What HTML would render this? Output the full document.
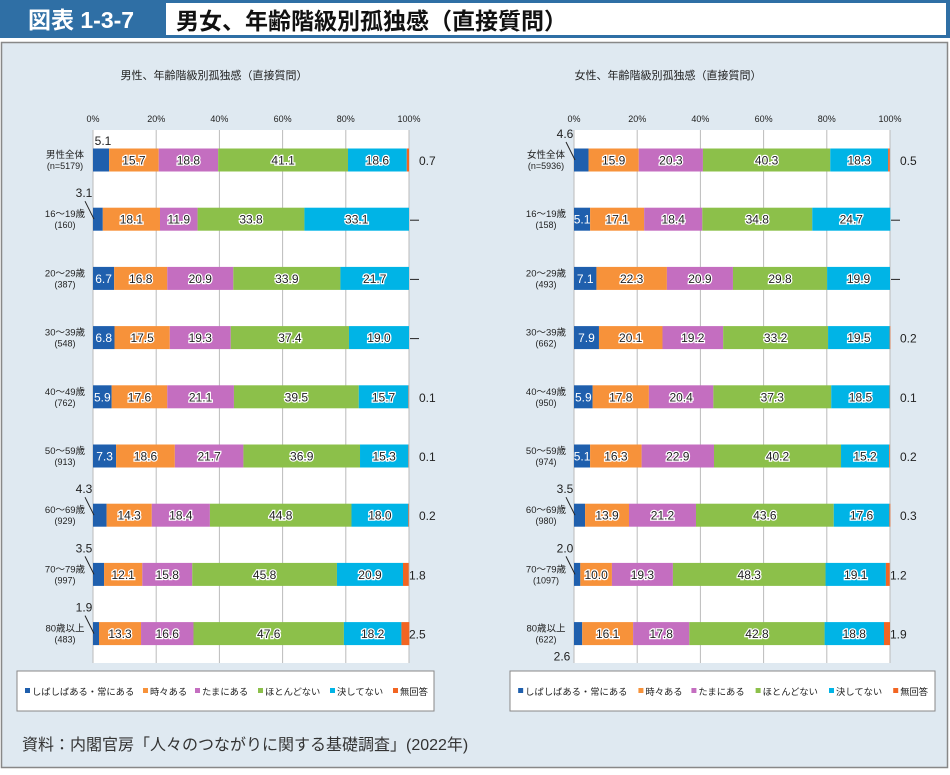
<!DOCTYPE html>
<html><head><meta charset="utf-8"><style>
body{margin:0;width:950px;height:770px;background:#fff;font-family:"Liberation Sans","Noto Sans CJK JP",sans-serif;overflow:hidden}
</style></head><body>
<svg id="s" width="950" height="770" xmlns="http://www.w3.org/2000/svg" font-family="Liberation Sans, Noto Sans CJK JP, sans-serif">
<rect x="0" y="0" width="950" height="38" fill="#2f6fa5"/>
<rect x="166" y="3" width="780" height="32" fill="#fff"/>
<text x="28" y="28" font-size="23" font-weight="bold" fill="#fff">図表 1-3-7</text>
<text x="176" y="29" font-size="23" font-weight="bold" fill="#111">男女、年齢階級別孤独感（直接質問）</text>
<rect x="1.5" y="42.5" width="946" height="725" fill="#dfe9f1" stroke="#888" stroke-width="1.5"/>
<text x="22" y="750" font-size="16" fill="#333">資料：内閣官房「人々のつながりに関する基礎調査」(2022年)</text>
<g id="g"></g>
</svg>
<script>
const C=["#1f5fad","#f7923a","#c46ec0","#8cc04a","#00b4e6","#f26522"];
const L=[["男性全体","(n=5179)",[5.1,15.7,18.8,41.1,18.6,0.7]],["16～19歳","(160)",[3.1,18.1,11.9,33.8,33.1,0]],["20～29歳","(387)",[6.7,16.8,20.9,33.9,21.7,0]],["30～39歳","(548)",[6.8,17.5,19.3,37.4,19.0,0]],["40～49歳","(762)",[5.9,17.6,21.1,39.5,15.7,0.1]],["50～59歳","(913)",[7.3,18.6,21.7,36.9,15.3,0.1]],["60～69歳","(929)",[4.3,14.3,18.4,44.8,18.0,0.2]],["70～79歳","(997)",[3.5,12.1,15.8,45.8,20.9,1.8]],["80歳以上","(483)",[1.9,13.3,16.6,47.6,18.2,2.5]]];
const R=[["女性全体","(n=5936)",[4.6,15.9,20.3,40.3,18.3,0.5]],["16～19歳","(158)",[5.1,17.1,18.4,34.8,24.7,0]],["20～29歳","(493)",[7.1,22.3,20.9,29.8,19.9,0]],["30～39歳","(662)",[7.9,20.1,19.2,33.2,19.5,0.2]],["40～49歳","(950)",[5.9,17.8,20.4,37.3,18.5,0.1]],["50～59歳","(974)",[5.1,16.3,22.9,40.2,15.2,0.2]],["60～69歳","(980)",[3.5,13.9,21.2,43.6,17.6,0.3]],["70～79歳","(1097)",[2.0,10.0,19.3,48.3,19.1,1.2]],["80歳以上","(622)",[2.6,16.1,17.8,42.8,18.8,1.9]]];
let h="";
function chart(x0,data,title,tx,lx,lw){
 const W=316;
 h+=`<text x="${tx}" y="79" font-size="11" text-anchor="middle" fill="#222">${title}</text>`;
 h+=`<rect x="${x0}" y="130" width="${W}" height="533" fill="#fff"/>`;
 for(let i=0;i<=5;i++){let x=x0+i*W/5;h+=`<line x1="${x}" y1="130" x2="${x}" y2="663" stroke="#bbb"/>`;h+=`<text x="${x}" y="122" font-size="9" text-anchor="middle" fill="#222">${i*20}%</text>`}
 data.forEach((d,r)=>{
  const cy=160+r*59.2,y=cy-11.5;
  h+=`<text x="${x0-28}" y="${cy-2}" font-size="9.5" text-anchor="middle" fill="#222">${d[0]}</text><text x="${x0-28}" y="${cy+9}" font-size="9" text-anchor="middle" fill="#222">${d[1]}</text>`;
  let x=x0;
  d[2].forEach((v,k)=>{const w=v*W/100;if(w>0)h+=`<rect x="${x}" y="${y}" width="${w}" height="23" fill="${C[k]}"/>`;
   const c=x+w/2;
   if(k>=1&&k<=4)h+=`<text x="${c}" y="${cy+4.5}" font-size="12" text-anchor="middle" fill="#222" stroke="#fff" stroke-width="2.5" paint-order="stroke">${v.toFixed(1)}</text>`;
   if(k==0){if(v>=5&&!(r==0&&x0<300)) h+=`<text x="${c}" y="${cy+4.5}" font-size="12" text-anchor="middle" fill="#fff">${v.toFixed(1)}</text>`;
    else if(r==8&&x0>300) h+=`<text x="${x0-12}" y="${cy+27}" font-size="12" text-anchor="middle" fill="#222">${v.toFixed(1)}</text>`;
    else if(r==0&&x0<300) h+=`<text x="${x0+10}" y="${cy-15}" font-size="12" text-anchor="middle" fill="#222">${v.toFixed(1)}</text>`;
    else {h+=`<text x="${x0-9}" y="${cy-22}" font-size="12" text-anchor="middle" fill="#222">${v.toFixed(1)}</text><line x1="${x0-8}" y1="${cy-18}" x2="${x0+1}" y2="${cy}" stroke="#222"/>`;}}
   if(k==5){if(v>0)h+=`<text x="${x0+W+(v>=1?0:10)}" y="${cy+5}" font-size="12" fill="#222">${v.toFixed(1)}</text>`;else h+=`<line x1="${x0+W+1}" y1="${cy+1}" x2="${x0+W+10}" y2="${cy+1}" stroke="#222"/>`;}
   x+=w;});
 });
 h+=`<rect x="${lx}" y="671" width="${lw}" height="40" fill="#fff" stroke="#888"/>`;
 const names=["しばしばある・常にある","時々ある","たまにある","ほとんどない","決してない","無回答"];
 const off=[8,126,178,241,313,376];const sc=lw/417;
 names.forEach((n,k)=>{const xx=lx+off[k]*sc;h+=`<rect x="${xx}" y="688" width="5" height="5" fill="${C[k]}"/><text x="${xx+7}" y="695" font-size="9.3" fill="#222">${n}</text>`});
}
chart(93,L,"男性、年齢階級別孤独感（直接質問）",214,17,417);
chart(574,R,"女性、年齢階級別孤独感（直接質問）",668,510,425);
document.getElementById("g").innerHTML=h;
</script>
</body></html>
